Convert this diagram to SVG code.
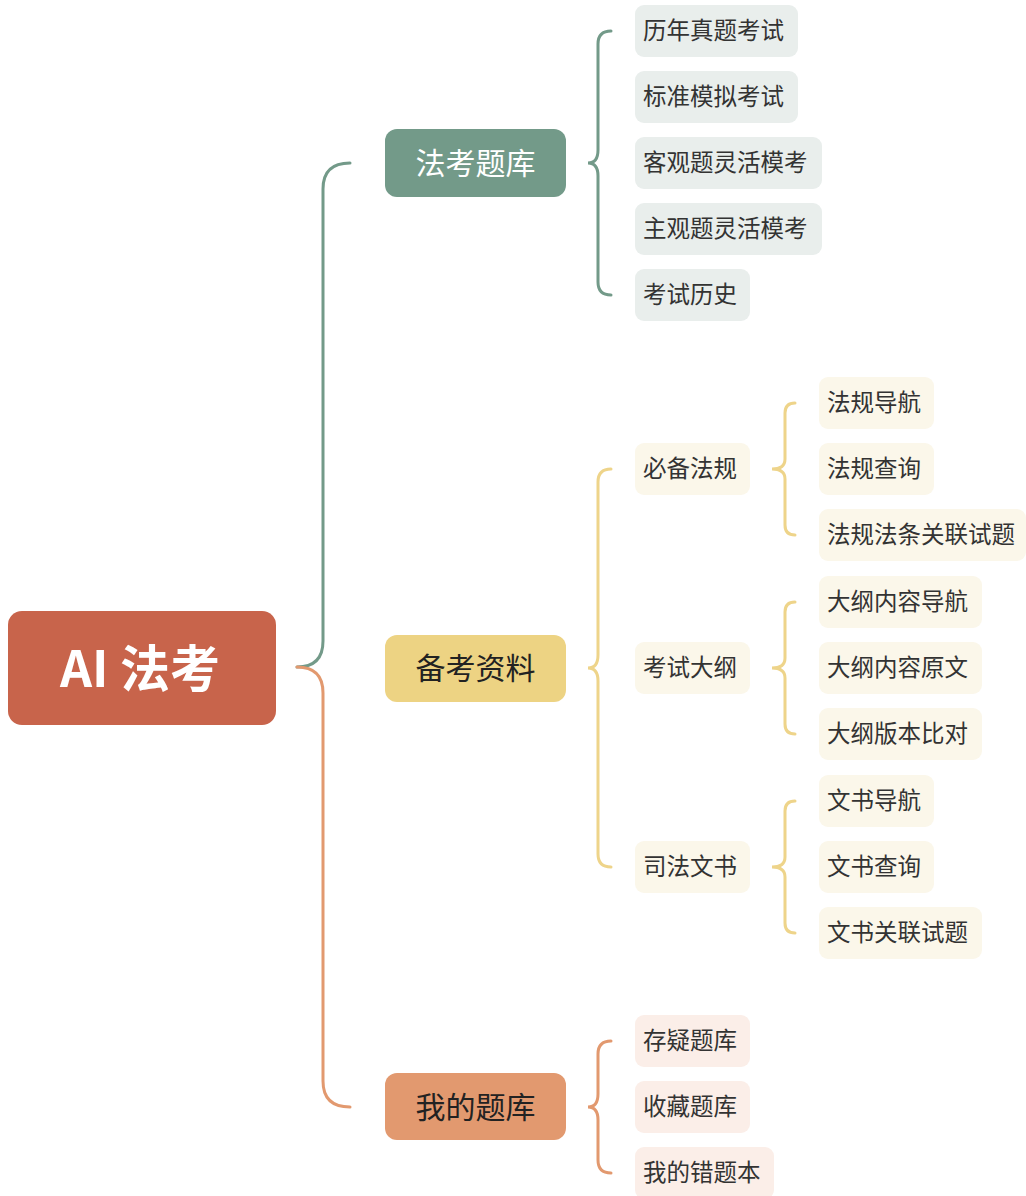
<svg xmlns="http://www.w3.org/2000/svg" width="1026" height="1196" viewBox="0 0 1026 1196">
<style>
text{font-family:"Noto Sans CJK SC","Noto Sans",sans-serif;dominant-baseline:central;transform:translateY(-2px)}
.c{font-size:23.5px;fill:#333333}
.l1{font-size:30px}
.br{fill:none;stroke-width:3;stroke-linecap:round}
.g{stroke:#739A89}.y{stroke:#EED48A}.o{stroke:#E2996F}
.gf{fill:#E9EEEC}.yf{fill:#FBF7EA}.of{fill:#FBEEE8}
</style>
<rect width="1026" height="1196" fill="#ffffff"/>
<g id="connectors">
<path class="br g" stroke-width="4" d="M297 667 Q323 667 323 641 L323 189 Q323 163 350 163"/>
<path class="br o" stroke-width="4" d="M297 667 Q323 667 323 693 L323 1081 Q323 1107 350 1107"/>
<path class="br g" d="M611 31 Q598 31 598 44 L598 150 Q598 163 588 163 Q598 163 598 176 L598 282 Q598 295 611 295"/>
<path class="br y" d="M611 469 Q598 469 598 482 L598 655 Q598 668 588 668 Q598 668 598 681 L598 854 Q598 867 611 867"/>
<path class="br o" d="M611 1041 Q598 1041 598 1054 L598 1094 Q598 1107 588 1107 Q598 1107 598 1120 L598 1160 Q598 1173 611 1173"/>
<path class="br y" d="M795 403 Q785 403 785 413 L785 459 Q785 469 772 469 Q785 469 785 479 L785 525 Q785 535 795 535"/>
<path class="br y" d="M795 602 Q785 602 785 612 L785 658 Q785 668 772 668 Q785 668 785 678 L785 724 Q785 734 795 734"/>
<path class="br y" d="M795 801 Q785 801 785 811 L785 857 Q785 867 772 867 Q785 867 785 877 L785 923 Q785 933 795 933"/>
</g>
<g id="root"><rect x="8" y="611" width="268" height="114" rx="14" fill="#C8644B"/><text x="140" y="667" text-anchor="middle" font-size="50" font-weight="bold" fill="#ffffff">AI 法考</text></g>
<g id="n-fakao"><rect x="385" y="129" width="181" height="68" rx="12" fill="#739A89"/><text class="l1" x="475.5" y="163" text-anchor="middle" fill="#ffffff">法考题库</text></g>
<g id="n-beikao"><rect x="385" y="635" width="181" height="67" rx="12" fill="#EDD383"/><text class="l1" x="475.5" y="668" text-anchor="middle" fill="#222222">备考资料</text></g>
<g id="n-wode"><rect x="385" y="1073" width="181" height="67" rx="12" fill="#E2996F"/><text class="l1" x="475.5" y="1107" text-anchor="middle" fill="#222222">我的题库</text></g>
<g id="g1"><rect class="gf" x="635" y="5" width="163" height="52" rx="9"/><text class="c" x="643" y="31">历年真题考试</text></g>
<g id="g2"><rect class="gf" x="635" y="71" width="163" height="52" rx="9"/><text class="c" x="643" y="97">标准模拟考试</text></g>
<g id="g3"><rect class="gf" x="635" y="137" width="187" height="52" rx="9"/><text class="c" x="643" y="163">客观题灵活模考</text></g>
<g id="g4"><rect class="gf" x="635" y="203" width="187" height="52" rx="9"/><text class="c" x="643" y="229">主观题灵活模考</text></g>
<g id="g5"><rect class="gf" x="635" y="269" width="115" height="52" rx="9"/><text class="c" x="643" y="295">考试历史</text></g>
<g id="y1"><rect class="yf" x="635" y="443" width="115" height="52" rx="9"/><text class="c" x="643" y="469">必备法规</text></g>
<g id="y2"><rect class="yf" x="635" y="642" width="115" height="52" rx="9"/><text class="c" x="643" y="668">考试大纲</text></g>
<g id="y3"><rect class="yf" x="635" y="841" width="115" height="52" rx="9"/><text class="c" x="643" y="867">司法文书</text></g>
<g id="y1a"><rect class="yf" x="819" y="377" width="115" height="52" rx="9"/><text class="c" x="827" y="403">法规导航</text></g>
<g id="y1b"><rect class="yf" x="819" y="443" width="115" height="52" rx="9"/><text class="c" x="827" y="469">法规查询</text></g>
<g id="y1c"><rect class="yf" x="819" y="509" width="207" height="52" rx="9"/><text class="c" x="827" y="535">法规法条关联试题</text></g>
<g id="y2a"><rect class="yf" x="819" y="576" width="163" height="52" rx="9"/><text class="c" x="827" y="602">大纲内容导航</text></g>
<g id="y2b"><rect class="yf" x="819" y="642" width="163" height="52" rx="9"/><text class="c" x="827" y="668">大纲内容原文</text></g>
<g id="y2c"><rect class="yf" x="819" y="708" width="163" height="52" rx="9"/><text class="c" x="827" y="734">大纲版本比对</text></g>
<g id="y3a"><rect class="yf" x="819" y="775" width="115" height="52" rx="9"/><text class="c" x="827" y="801">文书导航</text></g>
<g id="y3b"><rect class="yf" x="819" y="841" width="115" height="52" rx="9"/><text class="c" x="827" y="867">文书查询</text></g>
<g id="y3c"><rect class="yf" x="819" y="907" width="163" height="52" rx="9"/><text class="c" x="827" y="933">文书关联试题</text></g>
<g id="o1"><rect class="of" x="635" y="1015" width="115" height="52" rx="9"/><text class="c" x="643" y="1041">存疑题库</text></g>
<g id="o2"><rect class="of" x="635" y="1081" width="115" height="52" rx="9"/><text class="c" x="643" y="1107">收藏题库</text></g>
<g id="o3"><rect class="of" x="635" y="1147" width="139" height="52" rx="9"/><text class="c" x="643" y="1173">我的错题本</text></g>
</svg>
